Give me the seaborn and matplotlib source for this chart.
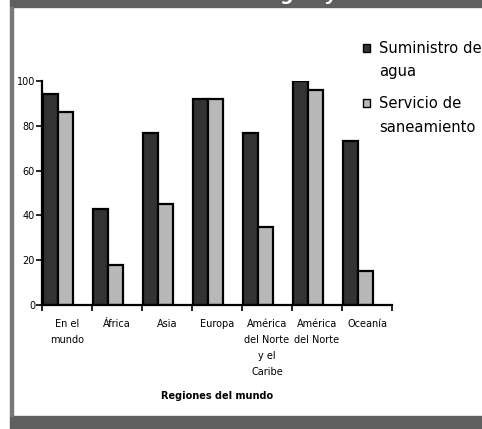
import matplotlib
matplotlib.use("Agg")
import matplotlib.pyplot as plt
from matplotlib.patches import Rectangle, Patch
from matplotlib.legend_handler import HandlerPatch
from matplotlib.ticker import FixedLocator
import seaborn as sns
import pandas as pd

# Data
regiones = ["En el\nmundo", "África", "Asia", "Europa",
            "América\ndel Norte\ny el\nCaribe", "América\ndel Norte", "Oceanía"]
suministro_agua = [94, 43, 77, 92, 77, 100, 73]
servicio_saneamiento = [86, 18, 45, 92, 35, 96, 15]
series = ["Suministro de\nagua", "Servicio de\nsaneamiento"]
y_ticks = [0, 20, 40, 60, 80, 100]

titulo = "Acceso a agua y saneamiento"

df = pd.DataFrame({
    "region": regiones * 2,
    "valor": suministro_agua + servicio_saneamiento,
    "serie": [series[0]] * len(regiones) + [series[1]] * len(regiones),
})

colors = ["#333333", "#b8b8b8"]
frame_gray = "#5f5f5f"

sns.set_theme(style="white")
plt.rcParams["font.family"] = ["DejaVu Sans"]
plt.rcParams["text.color"] = "black"
plt.rcParams["xtick.color"] = "black"
plt.rcParams["ytick.color"] = "black"
plt.rcParams["axes.labelcolor"] = "black"

W, H = 482, 429
fig = plt.figure(figsize=(W / 100, H / 100), dpi=100)
fig.patch.set_facecolor("white")

ax = fig.add_axes([42 / W, (H - 305) / H, 350 / W, 224 / H])
sns.barplot(data=df, x="region", y="valor", hue="serie", palette=colors,
            width=0.6, edgecolor="black", linewidth=1.6, saturation=1,
            legend=False, ax=ax)

# Category slots are offset so the bar pair sits on the left of each slot
shift = 0.176
n = len(regiones)
ax.set_xlim(-0.5 + shift, n - 0.5 + shift)
ax.set_ylim(0, 100)
ax.xaxis.set_major_locator(FixedLocator([i + shift for i in range(n)]))
ax.set_xticklabels(regiones, fontsize=7, linespacing=1.75, va="top")
ax.xaxis.set_minor_locator(FixedLocator([i - 0.5 + shift for i in range(n + 1)]))
ax.tick_params(axis="x", which="major", length=0, pad=10, colors="black")
ax.tick_params(axis="x", which="minor", bottom=True, length=4, width=1.2,
               direction="out", color="black")
ax.set_yticks(y_ticks)
ax.set_yticklabels([str(v) for v in y_ticks], fontsize=7)
ax.tick_params(axis="y", left=True, length=4, width=1.2, direction="out",
               pad=1, colors="black")

for side in ["top", "right"]:
    ax.spines[side].set_visible(False)
for side in ["left", "bottom"]:
    ax.spines[side].set_color("black")
    ax.spines[side].set_linewidth(1.6)

ax.set_ylabel("")
ax.set_xlabel("Regiones del mundo", fontsize=7, fontweight="bold", labelpad=10)


# Legend swatches sit beside the first line of each two-line label
def top_line_square(legend, orig_handle, xdescent, ydescent, width, height,
                    fontsize):
    return Rectangle((-xdescent, -ydescent + 0.88 * fontsize), width, height)


handles = [Patch(facecolor=c, edgecolor="black", linewidth=1.0) for c in colors]
leg = fig.legend(handles, series, loc="upper left",
                 bbox_to_anchor=(357 / W, 1 - 35 / H), frameon=False,
                 fontsize=10.6, handlelength=0.48, handleheight=0.48,
                 handletextpad=0.6, labelspacing=1.15, borderaxespad=0,
                 handler_map={Patch: HandlerPatch(patch_func=top_line_square)})
for t in leg.get_texts():
    t.set_linespacing(1.7)
    t.set_color("black")

# Frame decorations: top and bottom bands, left rule
fig.patches.append(Rectangle((10 / W, 1 - 7 / H), 1 - 10 / W, 7 / H,
                             transform=fig.transFigure, color=frame_gray, zorder=0))
fig.patches.append(Rectangle((10 / W, 0), 1 - 10 / W, 13 / H,
                             transform=fig.transFigure, color=frame_gray, zorder=0))
fig.patches.append(Rectangle((10 / W, 13 / H), 3 / W, 1 - 20 / H,
                             transform=fig.transFigure, color="#777777", zorder=0))

# Title: the band only shows the descenders of its letters
fig.canvas.draw()
renderer = fig.canvas.get_renderer()
probe = fig.text(0, 0, "Acceso a a", fontsize=13, fontweight="bold",
                 fontstyle="italic")
pre_w = probe.get_window_extent(renderer).width
probe.remove()
fig.text((282 - pre_w) / W, 1 + 0.5 / H, titulo, fontsize=13,
         fontweight="bold", fontstyle="italic", color="white",
         va="baseline", ha="left")

fig.savefig("out.png", dpi=100, facecolor="white")
